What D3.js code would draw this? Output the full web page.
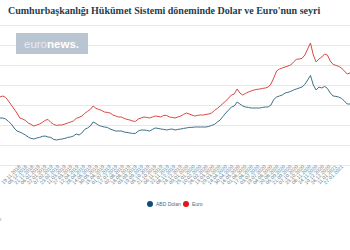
<!DOCTYPE html>
<html>
<head>
<meta charset="utf-8">
<script src="https://cdn.jsdelivr.net/npm/d3@7"></script>
<style>
  body { margin: 0; background: #fff; }
  svg { display: block; }
</style>
</head>
<body>
<svg></svg>
<script>
let width = 350,
  height = 250;

let svg = d3.select("svg").attr("width", width).attr("height", height);

// weekly readings (Fridays)
const dates = [
  "2018-09-28","2018-10-05","2018-10-12","2018-10-19","2018-10-26","2018-11-02","2018-11-09","2018-11-16","2018-11-23","2018-11-30","2018-12-07","2018-12-14","2018-12-21","2018-12-28",
  "2019-01-04","2019-01-11","2019-01-18","2019-01-25","2019-02-01","2019-02-08","2019-02-15","2019-02-22","2019-03-01","2019-03-08","2019-03-15","2019-03-22","2019-03-29",
  "2019-04-05","2019-04-12","2019-04-19","2019-04-26","2019-05-03","2019-05-10","2019-05-17","2019-05-24","2019-05-31","2019-06-07","2019-06-14","2019-06-21","2019-06-28",
  "2019-07-05","2019-07-12","2019-07-19","2019-07-26","2019-08-02","2019-08-09","2019-08-16","2019-08-23","2019-08-30","2019-09-06","2019-09-13","2019-09-20","2019-09-27",
  "2019-10-04","2019-10-11","2019-10-18","2019-10-25","2019-11-01","2019-11-08","2019-11-15","2019-11-22","2019-11-29","2019-12-06","2019-12-13","2019-12-20","2019-12-27",
  "2020-01-03","2020-01-10","2020-01-17","2020-01-24","2020-01-31","2020-02-07","2020-02-14","2020-02-21","2020-02-28","2020-03-06","2020-03-13","2020-03-20","2020-03-27",
  "2020-04-03","2020-04-10","2020-04-17","2020-04-24","2020-05-01","2020-05-08","2020-05-15","2020-05-22","2020-05-29","2020-06-05","2020-06-12","2020-06-19","2020-06-26",
  "2020-07-03","2020-07-10","2020-07-17","2020-07-24","2020-07-31","2020-08-07","2020-08-14","2020-08-21","2020-08-28","2020-09-04","2020-09-11","2020-09-18","2020-09-25",
  "2020-10-02","2020-10-09","2020-10-16","2020-10-23","2020-10-30","2020-11-06","2020-11-13","2020-11-20","2020-11-27","2020-12-04","2020-12-11","2020-12-18","2020-12-25",
  "2021-01-01","2021-01-08","2021-01-15","2021-01-22","2021-01-29","2021-02-05","2021-02-12"
];

const usd = [
  6.35,6.35,6.30,6.18,6.05,5.85,5.70,5.65,5.58,5.50,5.40,5.33,5.30,5.35,
  5.38,5.43,5.45,5.40,5.38,5.28,5.25,5.28,5.30,5.33,5.38,5.40,5.45,
  5.55,5.50,5.60,5.78,5.85,5.95,6.15,6.08,5.98,5.93,5.90,5.88,5.80,
  5.75,5.70,5.70,5.70,5.65,5.63,5.60,5.58,5.58,5.70,5.75,5.75,5.73,
  5.70,5.78,5.85,5.83,5.80,5.78,5.75,5.78,5.80,5.75,5.78,5.80,5.83,
  5.85,5.88,5.88,5.90,5.90,5.90,5.90,5.90,5.93,5.98,6.03,6.15,6.25,
  6.43,6.60,6.75,6.90,6.95,7.15,7.05,6.95,6.90,6.88,6.85,6.85,6.85,
  6.85,6.88,6.90,6.90,7.00,7.28,7.40,7.45,7.50,7.60,7.63,7.68,7.75,
  7.80,7.85,7.90,8.03,8.25,8.48,8.00,7.75,7.90,7.85,7.93,7.83,7.60,
  7.45,7.43,7.40,7.33,7.20,7.05,7.05
];

const eur = [
  7.40,7.45,7.38,7.20,7.00,6.80,6.60,6.35,6.30,6.23,6.10,6.03,5.95,6.00,
  6.05,6.13,6.23,6.28,6.13,6.03,5.98,6.00,6.00,6.05,6.10,6.15,6.20,
  6.33,6.38,6.45,6.58,6.68,6.78,6.95,6.83,6.78,6.73,6.65,6.63,6.60,
  6.50,6.45,6.40,6.40,6.33,6.28,6.25,6.20,6.18,6.30,6.35,6.40,6.38,
  6.35,6.40,6.45,6.43,6.40,6.48,6.48,6.40,6.38,6.35,6.40,6.45,6.53,
  6.60,6.55,6.50,6.45,6.48,6.50,6.50,6.53,6.55,6.60,6.73,6.83,6.95,
  7.08,7.20,7.35,7.50,7.55,7.80,7.60,7.50,7.58,7.65,7.70,7.75,7.78,
  7.80,7.83,7.85,7.90,8.05,8.35,8.70,8.80,8.85,8.90,8.95,9.00,9.15,
  9.28,9.30,9.33,9.50,9.80,10.10,9.50,9.15,9.30,9.40,9.55,9.50,9.20,
  9.03,8.98,8.93,8.85,8.70,8.55,8.60
];

const seriesNames = ["ABD Doları", "Euro"];
const seriesColors = ["#3f7089", "#d84a43"];
const legendColors = ["#0c4d7e", "#e3161b"];
const gridValues = [4, 5, 6, 7, 8, 9, 10, 11];

const parse = d3.timeParse("%Y-%m-%d");
const dateObjs = dates.map(parse);

let x = d3.scaleTime()
  .domain(d3.extent(dateObjs))
  .range([0, 350]);

let y = d3.scaleLinear()
  .domain([4, 11])
  .range([165, 25]);

// gridlines
svg.append("g")
  .selectAll("line")
  .data(gridValues)
  .enter()
  .append("line")
  .attr("x1", 0)
  .attr("x2", width)
  .attr("y1", (d) => y(d) + 0.5)
  .attr("y2", (d) => y(d) + 0.5)
  .attr("stroke", "#e6e8ea")
  .attr("stroke-width", 1);

// title
svg.append("text")
  .attr("x", 8)
  .attr("y", 14)
  .attr("font-family", "Liberation Serif")
  .attr("font-weight", "bold")
  .attr("font-size", 10)
  .attr("fill", "#1d3d4e")
  .text("Cumhurbaşkanlığı Hükümet Sistemi döneminde Dolar ve Euro'nun seyri");

// euronews logo
svg.append("rect")
  .attr("x", 16)
  .attr("y", 33)
  .attr("width", 72)
  .attr("height", 21)
  .attr("fill", "#b9c5d1");

let logo = svg.append("text")
  .attr("x", 24)
  .attr("y", 47.5)
  .attr("font-family", "Liberation Sans")
  .attr("font-size", 11.5);
logo.append("tspan").attr("fill", "#e6ebf0").text("euro");
logo.append("tspan").attr("fill", "#ffffff").attr("font-weight", "bold").text("news.");

// lines
let line = (vals) => d3.line()
  .x((d, i) => x(dateObjs[i]))
  .y((d) => y(d))(vals);

[usd, eur].forEach((vals, i) => {
  svg.append("path")
    .attr("d", line(vals))
    .attr("fill", "none")
    .attr("stroke", seriesColors[i])
    .attr("stroke-width", 1)
    .attr("stroke-linejoin", "round");
});

// x axis labels
let tickDates = d3.range(52, 866, 16).map((d) => d3.timeDay.offset(dateObjs[0], d));
let fmt = d3.timeFormat("%d.%m.%Y");

svg.append("g")
  .selectAll("text")
  .data(tickDates)
  .enter()
  .append("text")
  .attr("transform", (d) => "translate(" + x(d) + ",167) rotate(-45)")
  .attr("text-anchor", "end")
  .attr("font-family", "Liberation Sans")
  .attr("font-size", 5)
  .attr("fill", "#5e7886")
  .text((d) => fmt(d));

// legend
let legend = svg.append("g");
let legendX = [150, 186];
seriesNames.forEach((name, i) => {
  legend.append("circle")
    .attr("cx", legendX[i])
    .attr("cy", 204)
    .attr("r", 3)
    .attr("fill", legendColors[i]);
  legend.append("text")
    .attr("x", legendX[i] + 6)
    .attr("y", 206)
    .attr("font-family", "Liberation Sans")
    .attr("font-size", 5)
    .attr("fill", "#4d6a7c")
    .text(name);
});

svg.append("text")
  .attr("x", 0)
  .attr("y", 221)
  .attr("font-family", "Liberation Sans")
  .attr("font-size", 5)
  .attr("fill", "#4d7ea8")
  .text("ı");
</script>
</body>
</html>
